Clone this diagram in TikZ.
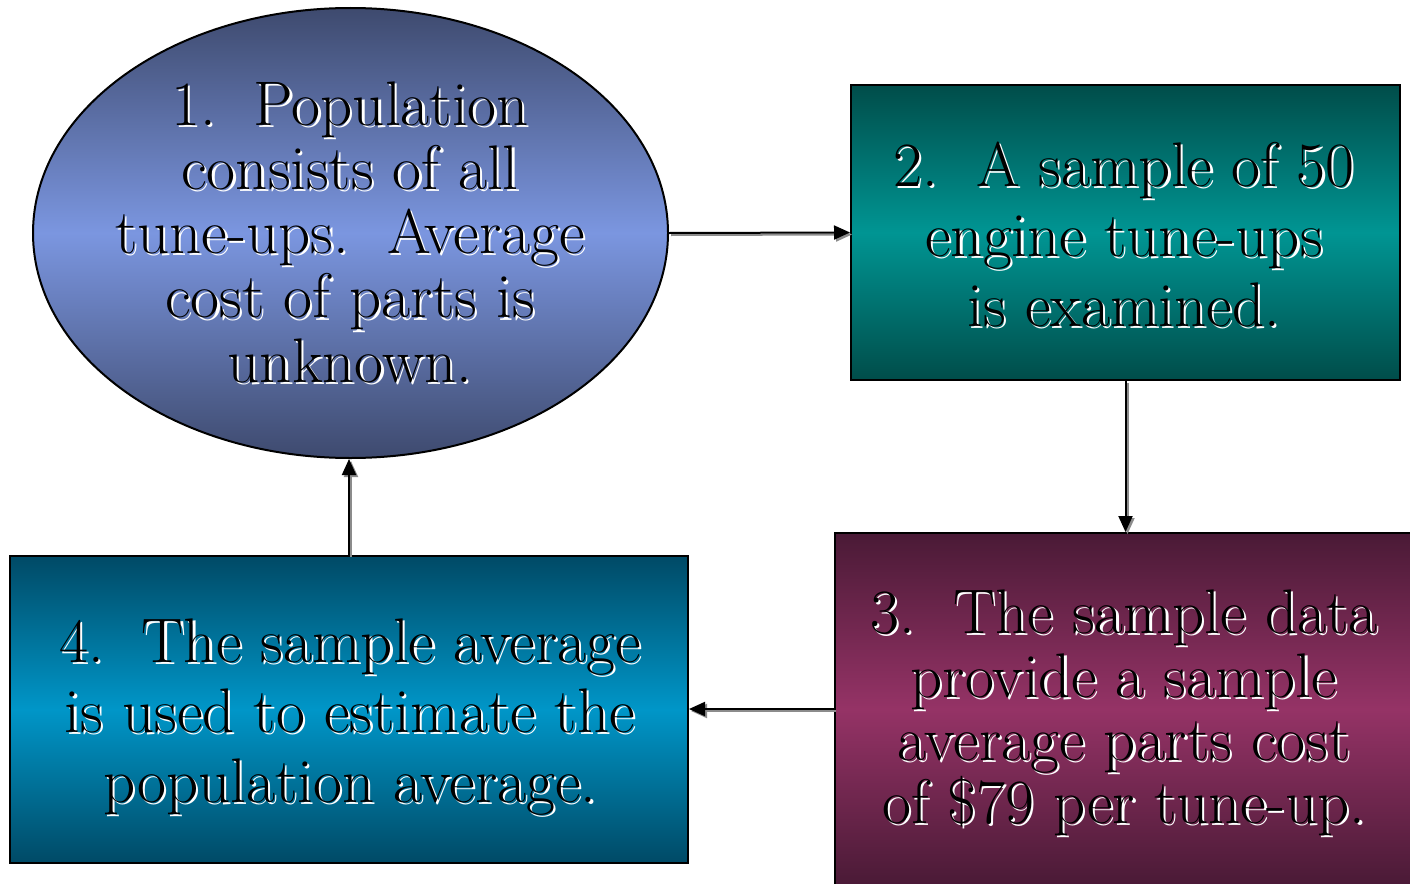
\documentclass[tikz,border=0pt]{standalone}
\usetikzlibrary{shapes.geometric,arrows.meta}
\definecolor{elA}{HTML}{3E4A6E}
\definecolor{elB}{HTML}{7B96E0}
\definecolor{tqA}{HTML}{004D4A}
\definecolor{tqB}{HTML}{009593}
\definecolor{mgA}{HTML}{4A1A36}
\definecolor{mgB}{HTML}{953366}
\definecolor{blA}{HTML}{004A66}
\definecolor{blB}{HTML}{0096C8}
\definecolor{shgray}{HTML}{8C8C8C}
\tikzset{
  shapebox/.style={draw=black, line width=2pt, inner sep=0pt},
  arr/.style={draw=black, line width=2pt, -{Triangle[length=16pt,width=14pt]}},
  arrshadow/.style={draw=shgray, line width=2pt, -{Triangle[length=16pt,width=14pt]}, transform canvas={shift={(2pt,-2pt)}}},
  txt/.style={align=center, text=black, inner sep=0pt},
  txtsh/.style={align=center, text=white, inner sep=0pt},
}
\begin{document}
\begin{tikzpicture}[x=1pt,y=-1pt]
\clip (0,0) rectangle (1410,883);
\fill[white] (0,0) rectangle (1410,883);
% shapes
\node[shapebox, ellipse, minimum width=635pt, minimum height=450pt,
  top color=elA, bottom color=elA, middle color=elB] (n1) at (350.5,233) {};
\node[shapebox, rectangle, minimum width=549pt, minimum height=295pt,
  top color=tqA, bottom color=tqA, middle color=tqB] (n2) at (1125.5,232.5) {};
\node[shapebox, rectangle, minimum width=577pt, minimum height=352pt,
  top color=mgA, bottom color=mgA, middle color=mgB] (n3) at (1123.5,709) {};
\node[shapebox, rectangle, minimum width=678pt, minimum height=307pt,
  top color=blA, bottom color=blA, middle color=blB] (n4) at (349,709.5) {};
% connector shadows
\draw[arrshadow] (n1.east) -- (n2.west);
\draw[arrshadow] (n2.south) -- (n2.south |- n3.north);
\draw[arrshadow] (n3.west) -- (n3.west -| n4.east);
\draw[arrshadow] (n4.north) -- (n4.north |- n1.south);
% connectors
\draw[arr] (n1.east) -- (n2.west);
\draw[arr] (n2.south) -- (n2.south |- n3.north);
\draw[arr] (n3.west) -- (n3.west -| n4.east);
\draw[arr] (n4.north) -- (n4.north |- n1.south);
% texts
\node[txtsh, font=\fontsize{63}{64.25}\selectfont] (t1s) at (352.2,234.2) {1.~~Population\\consists of all\\tune-ups.~~Average\\cost of parts is\\unknown.};
\node[txt, font=\fontsize{63}{64.25}\selectfont] (t1) at (350,232) {1.~~Population\\consists of all\\tune-ups.~~Average\\cost of parts is\\unknown.};
\node[txtsh, font=\fontsize{63}{70}\selectfont] (t2s) at (1126.2,236.2) {2.~~A sample of 50\\engine tune-ups\\is examined.};
\node[txt, font=\fontsize{63}{70}\selectfont] (t2) at (1124,234) {2.~~A sample of 50\\engine tune-ups\\is examined.};
\node[txtsh, font=\fontsize{63}{63.3}\selectfont] (t3s) at (1126.2,715.2) {3.~~The sample data\\provide a sample\\average parts cost\\of \$79 per tune-up.};
\node[txt, font=\fontsize{63}{63.3}\selectfont] (t3) at (1124,713) {3.~~The sample data\\provide a sample\\average parts cost\\of \$79 per tune-up.};
\node[txtsh, font=\fontsize{63}{70}\selectfont] (t4s) at (352.2,719.2) {4.~~The sample average\\is used to estimate the\\population average.};
\node[txt, font=\fontsize{63}{70}\selectfont] (t4) at (350,717) {4.~~The sample average\\is used to estimate the\\population average.};
\end{tikzpicture}
\end{document}
